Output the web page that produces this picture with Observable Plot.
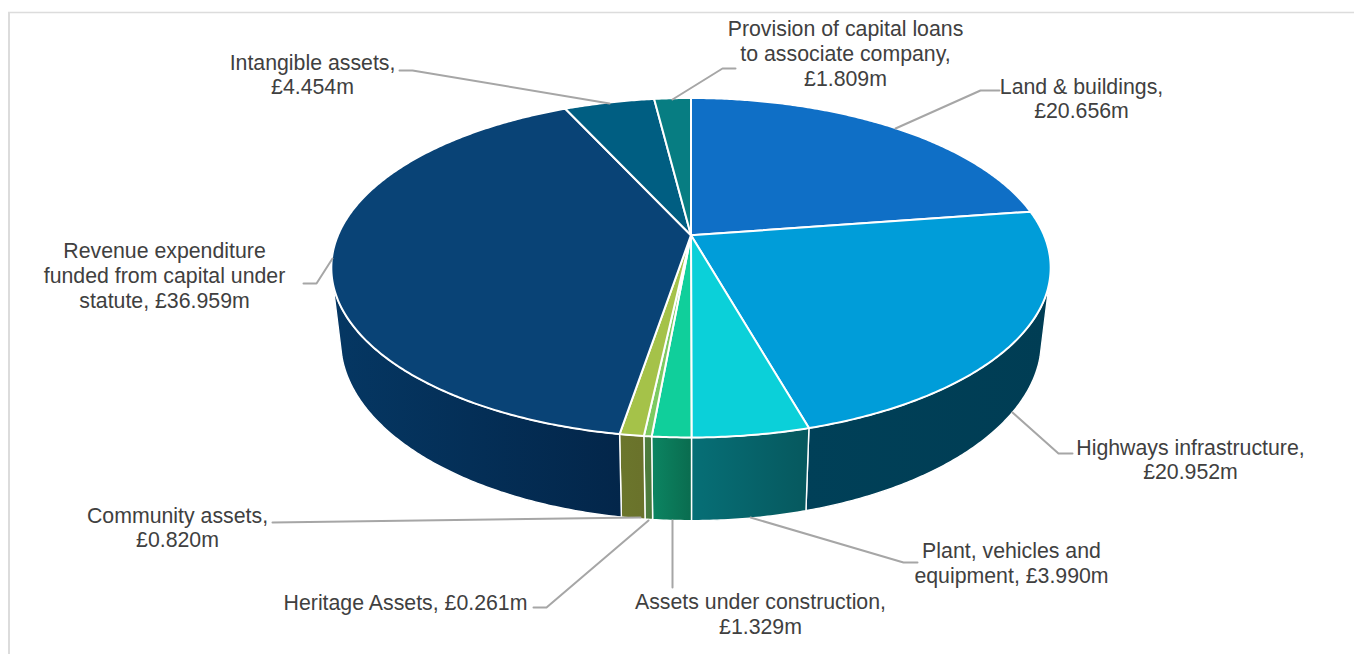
<!DOCTYPE html>
<html>
<head>
<meta charset="utf-8">
<script src="https://cdn.jsdelivr.net/npm/d3@7"></script>
<script src="https://cdn.jsdelivr.net/npm/@observablehq/plot@0.6"></script>
<style>
html,body{margin:0;padding:0;background:#fff;overflow:hidden}
svg{display:block}
</style>
</head>
<body>
<div id="chart"></div>
<script>
// Data, clockwise from twelve o'clock
const categories = ["Land & buildings","Highways infrastructure","Plant, vehicles and equipment","Assets under construction","Heritage Assets","Community assets","Revenue expenditure funded from capital under statute","Intangible assets","Provision of capital loans to associate company"];
const values = [20.656,20.952,3.990,1.329,0.261,0.820,36.959,4.454,1.809];
const labels = [
  "Land & buildings,\n£20.656m",
  "Highways infrastructure,\n£20.952m",
  "Plant, vehicles and\nequipment, £3.990m",
  "Assets under construction,\n£1.329m",
  "Heritage Assets, £0.261m",
  "Community assets,\n£0.820m",
  "Revenue expenditure\nfunded from capital under\nstatute, £36.959m",
  "Intangible assets,\n£4.454m",
  "Provision of capital loans\nto associate company,\n£1.809m"
];
const topColors = ["#0f6fc6","#009dd9","#0bd0d9","#10cf9b","#7cca62","#a5c249","#094376","#005e82","#077d82"];
const wallFrom = ["#0a4f8e","#004058","#066f76","#0c8562","#4f7e3f","#6b762c","#053763","#005e82","#077d82"];
const wallTo   = ["#0a4f8e","#003d54","#06585e","#0a6c4f","#4a783b","#6a722b","#03264a","#005e82","#077d82"];

// Layout (label centres and leader paths), chart pixels
const labelX = [1081,1190,1011,760,405,177,164,312,845];
const labelY = [97.5,458.5,562,613,601.5,526.5,274.5,73.5,52.5];
const leaders = [
  [[999,90],[980,90],[895,128]],
  [[1072,453],[1058,453],[1012,412]],
  [[917,562],[903,562],[750,517]],
  [[672,587],[672,520]],
  [[533,607],[546,607],[648,520]],
  [[272,522],[640,517]],
  [[303,283],[316,283],[332,258]],
  [[399,70],[412,70],[609,103]],
  [[735,68],[722,68],[672,99]]
];

// Tilted-disc projection
const k = 0.1917;
const topRim = {cx:690.5, cy:234.7, a:353, b:163.5};
const lowRim = {cx:690.5, cy:305.5, a:344, b:173.5};
const project = (rim, deg) => {
  const t = deg * Math.PI / 180, u = Math.sin(t), v = Math.cos(t), w = 1 + k * v;
  return {x: rim.cx + rim.a * u / w, y: rim.cy - rim.b * v / w};
};
const total = d3.sum(values);
let run = 0;
const spans = values.map(v => { const s = run; run += v; return [s / total * 360, run / total * 360]; });
const arc = (a, b) => { const n = Math.max(2, Math.ceil((b - a) * 2)); return d3.range(n + 1).map(i => a + (b - a) * i / n); };

const wallStart = 106, wallEnd = 254;
const topPolys = spans.map(([a, b]) => [{x: topRim.cx, y: topRim.cy}, ...arc(a, b).map(d => project(topRim, d)), {x: topRim.cx, y: topRim.cy}]);
const wallPolys = spans.map(([a, b]) => {
  const s = Math.max(a, wallStart), e = Math.min(b, wallEnd);
  if (e <= s) return null;
  const deg = arc(s, e);
  const up = deg.map(d => project(topRim, d));
  const lo = deg.slice().reverse().map(d => project(lowRim, d));
  return [...up, ...lo, up[0]];
});

const defs = () => {
  const ns = "http://www.w3.org/2000/svg";
  const d = document.createElementNS(ns, "defs");
  wallFrom.forEach((c, i) => {
    const g = document.createElementNS(ns, "linearGradient");
    g.setAttribute("id", "wall" + i);
    g.setAttribute("x1", "0"); g.setAttribute("x2", "1"); g.setAttribute("y1", "0"); g.setAttribute("y2", "0");
    [[0, c], [1, wallTo[i]]].forEach(([o, col]) => {
      const s = document.createElementNS(ns, "stop");
      s.setAttribute("offset", o); s.setAttribute("stop-color", col);
      g.appendChild(s);
    });
    d.appendChild(g);
  });
  return d;
};

const leaderRows = leaders.flatMap((pts, i) => pts.map(p => ({i, x: p[0], y: p[1]})));
const labelRows = labels.map((text, i) => ({text, x: labelX[i], y: labelY[i]}));

const chart = Plot.plot({
  width: 1354, height: 654, margin: 0,
  x: {domain: [0, 1354], range: [0, 1354], axis: null},
  y: {domain: [0, 654], range: [0, 654], axis: null},
  style: {background: "#fff"},
  marks: [
    defs,
    Plot.ruleY([12], {x1: 8, x2: 1354, stroke: "#dcdcdc", strokeWidth: 1.5}),
    Plot.ruleX([8.5], {y1: 12, y2: 654, stroke: "#dcdcdc", strokeWidth: 2}),
    ...wallPolys.map((p, i) => p && Plot.line(p, {x: "x", y: "y", fill: `url(#wall${i})`, stroke: "#fff", strokeWidth: 1.4})).filter(Boolean),
    ...topPolys.map((p, i) => Plot.line(p, {x: "x", y: "y", fill: topColors[i], stroke: "#fff", strokeWidth: 2})),
    Plot.line(leaderRows, {x: "x", y: "y", z: "i", stroke: "#a6a6a6", strokeWidth: 2}),
    Plot.text(labelRows, {x: "x", y: "y", text: "text", fontFamily: "Liberation Sans", fontSize: 21.3, lineHeight: 1.17, fill: "#404040", textAnchor: "middle", lineAnchor: "middle"})
  ]
});
document.getElementById("chart").appendChild(chart);
</script>
</body>
</html>
